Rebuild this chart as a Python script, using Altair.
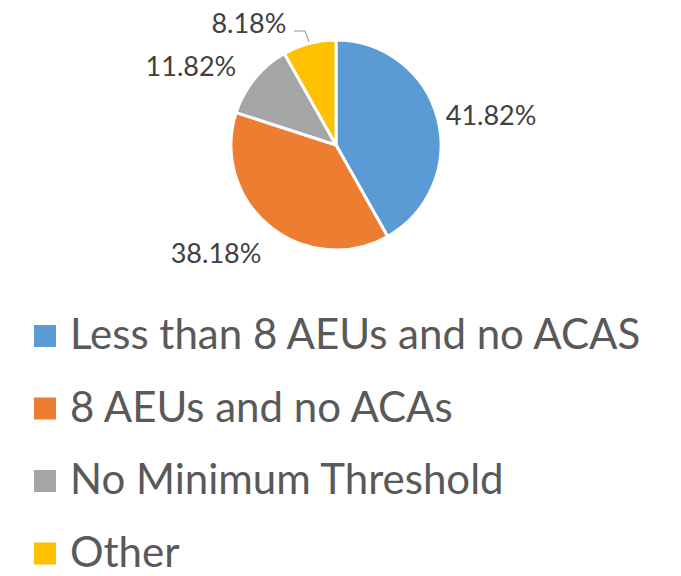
import altair as alt
import pandas as pd

categories = ["Less than 8 AEUs and no ACAS", "8 AEUs and no ACAs", "No Minimum Threshold", "Other"]
values = [41.82, 38.18, 11.82, 8.18]
labels = ["41.82%", "38.18%", "11.82%", "8.18%"]
colors = ["#5B9BD5", "#ED7D31", "#A5A5A5", "#FFC000"]

df = pd.DataFrame({"category": categories, "value": values, "label": labels,
                   "order": list(range(len(categories)))})

FONT = "Lato"
CX, CY, R = 328, 137, 105

pie = alt.Chart(df).mark_arc(outerRadius=R, stroke="white", strokeWidth=3).encode(
    theta=alt.Theta("value:Q", stack=True),
    order=alt.Order("order:Q"),
    color=alt.Color(
        "category:N",
        scale=alt.Scale(domain=categories, range=colors),
        sort=categories,
        legend=alt.Legend(
            title=None, orient="none", legendX=16, legendY=307, padding=0,
            symbolType="square", symbolSize=484, symbolStrokeWidth=0,
            labelFontSize=42, labelFont=FONT, labelColor="#595959",
            labelLimit=700, rowPadding=30.5, symbolOffset=0, labelOffset=4,
        ),
    ),
    x=alt.value(CX), y=alt.value(CY),
)

# labels: mid-angle of each slice through a theta scale over the same total, filtered per slice
offsets = [(10, 10), (-25, -6), (-29, 18), (-49, 25)]
total = sum(values)
text_layers = []
for i, (dx, dy) in enumerate(offsets):
    t = alt.Chart(df).transform_window(
        cum="sum(value)", sort=[alt.SortField("order")], frame=[None, 0]
    ).transform_calculate(
        mid="datum.cum - datum.value / 2"
    ).transform_filter(alt.datum.order == i).mark_text(
        radius=150, fontSize=27, font=FONT, color="#404040",
        dx=dx, dy=dy, align="center", baseline="middle"
    ).encode(
        theta=alt.Theta("mid:Q", scale=alt.Scale(domain=[0, total], range=[0, 6.283185307179586])),
        text="label:N", x=alt.value(CX), y=alt.value(CY),
    )
    text_layers.append(t)

lead1 = alt.Chart(df.head(1)).mark_rule(color="#A5A5A5", strokeWidth=1.2).encode(
    x=alt.value(286), x2=alt.value(297), y=alt.value(23), y2=alt.value(23))
lead2 = alt.Chart(df.head(1)).mark_rule(color="#A5A5A5", strokeWidth=1.2).encode(
    x=alt.value(297), x2=alt.value(301), y=alt.value(23), y2=alt.value(34))

chart = alt.layer(pie, *text_layers, lead1, lead2).resolve_scale(theta="independent").properties(
    width=665, height=560, padding=0, autosize=alt.AutoSizeParams(type="none"),
).configure_view(stroke=None)

chart.save("out.html", embed_options={"renderer": "svg", "actions": False})
